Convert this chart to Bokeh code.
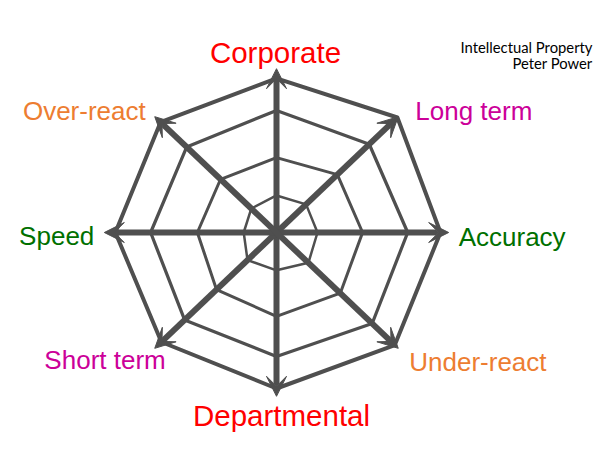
import math
from bokeh.plotting import figure
from bokeh.models import Arrow, VeeHead, Range1d
from bokeh.core.properties import value
from bokeh.embed import file_html
from bokeh.resources import INLINE

# ---- data ----
categories = ["Corporate", "Long term", "Accuracy", "Under-react",
              "Departmental", "Short term", "Speed", "Over-react"]
label_colors = ["#FF0000", "#CC0099", "#007000", "#ED7D31",
                "#FF0000", "#CC0099", "#007000", "#ED7D31"]
# grid ring radii per axis (clockwise from top)
ring1 = [0.95, 1.02, 1.00, 1.10, 0.97, 1.00, 0.80, 0.87]
ring2 = [1.92, 2.10, 2.10, 2.20, 2.15, 2.07, 1.93, 1.93]
ring3 = [3.13, 3.20, 3.20, 3.30, 3.18, 3.17, 3.07, 3.10]
ring4 = [3.95, 4.17, 4.00, 4.08, 4.00, 3.97, 3.93, 4.00]
arrow_len = 4.2
credit_lines = ["Intellectual Property", "Peter Power"]

# ---- layout ----
W, H = 600, 445
CX, CY = 276, 232          # centre in canvas pixels
SX, SY = 41.0, 39.0        # pixels per unit
GRAY = "#4F4F4F"

def px_x(fx):
    return (fx - CX) / SX

def px_y(fy):
    return (CY - fy) / SY

p = figure(width=W, height=H, output_backend="svg", toolbar_location=None,
           x_axis_location=None, y_axis_location=None, min_border=0,
           x_range=Range1d(px_x(0), px_x(W)), y_range=Range1d(px_y(H), px_y(0)))
p.grid.visible = False
p.outline_line_color = None
p.background_fill_color = "white"

n = len(categories)
angles = [2 * math.pi * i / n for i in range(n)]

def polar(r, a):
    return r * math.sin(a), r * math.cos(a)

rings = [ring1, ring2, ring3, ring4]
widths = [2.5, 3.0, 3.25, 4.0]
for ring, w in zip(rings, widths):
    xs, ys = [], []
    for r, a in zip(ring, angles):
        x, y = polar(r, a)
        xs.append(x)
        ys.append(y)
    xs.append(xs[0])
    ys.append(ys[0])
    p.line(xs, ys, line_color=GRAY, line_width=w, line_join="round")

# double-headed arrows through the centre
for i in range(n // 2):
    x0, y0 = polar(arrow_len, angles[i])
    x1, y1 = polar(arrow_len, angles[i + n // 2])
    p.add_layout(Arrow(x_start=x1, y_start=y1, x_end=x0, y_end=y0,
                       line_color=GRAY, line_width=6,
                       start=VeeHead(size=20, fill_color=GRAY, line_color=GRAY, line_width=1),
                       end=VeeHead(size=20, fill_color=GRAY, line_color=GRAY, line_width=1)))

# labels: offsets in pixels from the arrow tips
offsets = [(-1, -16, "center", 29.5), (17, -6, "left", 26), (10, 4, "left", 26),
           (11, 14, "left", 26), (5, 19, "center", 29.5), (11, 12, "right", 26),
           (-10, 3, "right", 26), (-9, -6, "right", 26)]
for cat, col, a, (dx, dy, al, fs) in zip(categories, label_colors, angles, offsets):
    x, y = polar(arrow_len, a)
    p.text([x], [y], text=[cat], x_offset=dx, y_offset=dy,
           text_align=al, text_baseline="alphabetic",
           text_color=col, text_font=value("Liberation Sans"),
           text_font_size=f"{fs}px")

p.text([px_x(592), px_x(592)], [px_y(46), px_y(62)], text=credit_lines,
       text_align="right", text_baseline="alphabetic", text_color="black",
       text_font=value("Lato"), text_font_size="14.8px")

open("out.html", "w").write(file_html(p, INLINE))
